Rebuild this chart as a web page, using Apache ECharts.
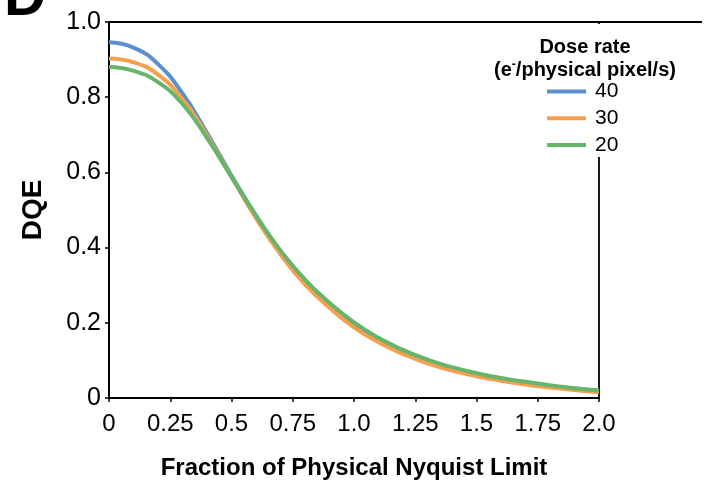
<!DOCTYPE html>
<html>
<head>
<meta charset="utf-8">
<script src="https://cdn.jsdelivr.net/npm/echarts@6/dist/echarts.min.js"></script>
<style>
  html, body { margin: 0; padding: 0; background: #fff; }
  #chart { width: 718px; height: 485px; }
</style>
</head>
<body>
<div id="chart"></div>
<script>
// Spatial frequency, as a fraction of the physical Nyquist limit
const freq = [0, 0.1, 0.2, 0.3, 0.4, 0.5, 0.6, 0.7, 0.8, 0.9, 1.0,
              1.1, 1.2, 1.3, 1.4, 1.5, 1.6, 1.7, 1.8, 1.9, 2.0];

// DQE curves per dose rate (e-/physical pixel/s)
const dqe40 = [0.946, 0.932, 0.888, 0.810, 0.705, 0.592, 0.485, 0.390, 0.312, 0.250, 0.198,
               0.157, 0.125, 0.100, 0.080, 0.064, 0.051, 0.041, 0.032, 0.025, 0.019];
const dqe30 = [0.903, 0.893, 0.860, 0.795, 0.698, 0.588, 0.478, 0.382, 0.302, 0.240, 0.188,
               0.148, 0.117, 0.092, 0.073, 0.058, 0.046, 0.036, 0.028, 0.021, 0.015];
const dqe20 = [0.880, 0.870, 0.840, 0.782, 0.692, 0.588, 0.485, 0.392, 0.315, 0.253, 0.201,
               0.160, 0.128, 0.102, 0.082, 0.066, 0.053, 0.043, 0.034, 0.026, 0.020];

const seriesNames = ['40', '30', '20'];
const seriesColors = ['#5b8fd0', '#f5a04e', '#67b56a'];

const xTickLabels = ['0', '0.25', '0.5', '0.75', '1.0', '1.25', '1.5', '1.75', '2.0'];
const yTickLabels = ['0', '0.2', '0.4', '0.6', '0.8', '1.0'];

const FONT = '"Liberation Sans", Arial, sans-serif';

function pairs(ys) {
  return freq.map((f, i) => [f, ys[i]]);
}

const chart = echarts.init(document.getElementById('chart'), null, { renderer: 'canvas' });

const lineSeries = [dqe40, dqe30, dqe20].map((ys, i) => ({
  name: seriesNames[i],
  type: 'line',
  data: pairs(ys),
  smooth: 0.5,
  showSymbol: false,
  lineStyle: { color: seriesColors[i], width: 4 },
  itemStyle: { color: seriesColors[i] },
  z: 3 + i
}));

chart.setOption({
  animation: false,
  backgroundColor: '#ffffff',
  grid: {
    left: 109, right: 119, top: 22, bottom: 87,
    show: true, borderColor: '#000', borderWidth: 1.8, backgroundColor: 'transparent'
  },
  xAxis: {
    type: 'value',
    min: 0, max: 2, interval: 0.25,
    name: 'Fraction of Physical Nyquist Limit',
    nameLocation: 'middle',
    nameGap: 58,
    nameTextStyle: { fontFamily: FONT, fontSize: 24, fontWeight: 'bold', color: '#000' },
    axisLine: { show: true, lineStyle: { color: '#000', width: 1.8 } },
    axisTick: { show: true, inside: false, length: 4, lineStyle: { color: '#000', width: 1.5 } },
    axisLabel: {
      fontFamily: FONT, fontSize: 24, color: '#000', margin: 14,
      formatter: v => xTickLabels[Math.round(v / 0.25)]
    },
    splitLine: { show: false }
  },
  yAxis: {
    type: 'value',
    min: 0, max: 1, interval: 0.2,
    name: 'DQE',
    nameLocation: 'middle',
    nameGap: 62,
    nameRotate: 90,
    nameTextStyle: { fontFamily: FONT, fontSize: 28, fontWeight: 'bold', color: '#000' },
    axisLine: { show: true, lineStyle: { color: '#000', width: 1.8 } },
    axisTick: { show: true, inside: false, length: 4, lineStyle: { color: '#000', width: 1.5 } },
    axisLabel: {
      fontFamily: FONT, fontSize: 25, color: '#000', margin: 8,
      formatter: v => yTickLabels[Math.round(v / 0.2)]
    },
    splitLine: { show: false }
  },
  legend: {
    orient: 'vertical',
    left: 542,
    top: 76,
    z: 20,
    itemWidth: 39,
    itemHeight: 4,
    itemGap: 5.8,
    icon: 'rect',
    data: seriesNames,
    textStyle: { fontFamily: FONT, fontSize: 21, color: '#000', lineHeight: 20, padding: [0, 0, 0, 4] }
  },
  graphic: [
    {
      type: 'text',
      left: 4, top: -30,
      style: { text: 'D', font: 'bold 58px "Liberation Sans", Arial, sans-serif', fill: '#000' }
    },
    // white backing of the legend block: hides the right frame edge behind it
    {
      type: 'rect',
      z: 10,
      shape: { x: 596, y: 24, width: 6, height: 133 },
      style: { fill: '#ffffff' }
    },
    // top frame edge continues above the legend block
    {
      type: 'line',
      z: 10,
      shape: { x1: 598, y1: 22, x2: 702, y2: 22 },
      style: { stroke: '#000', lineWidth: 1.8 }
    },
    {
      type: 'text',
      z: 20,
      x: 585, y: 47,
      style: {
        text: 'Dose rate', font: 'bold 20px "Liberation Sans", Arial, sans-serif',
        fill: '#000', textAlign: 'center', textVerticalAlign: 'middle'
      }
    },
    {
      type: 'text',
      z: 20,
      x: 585, y: 70,
      style: {
        text: '{b|(e}{s|-}{b|/physical pixel/s)}',
        textAlign: 'center', textVerticalAlign: 'middle',
        rich: {
          b: { font: 'bold 20px "Liberation Sans", Arial, sans-serif', fill: '#000' },
          s: { font: 'bold 12px "Liberation Sans", Arial, sans-serif', fill: '#000', padding: [0, 0, 10, 0] }
        }
      }
    }
  ],
  series: lineSeries
});
</script>
</body>
</html>
